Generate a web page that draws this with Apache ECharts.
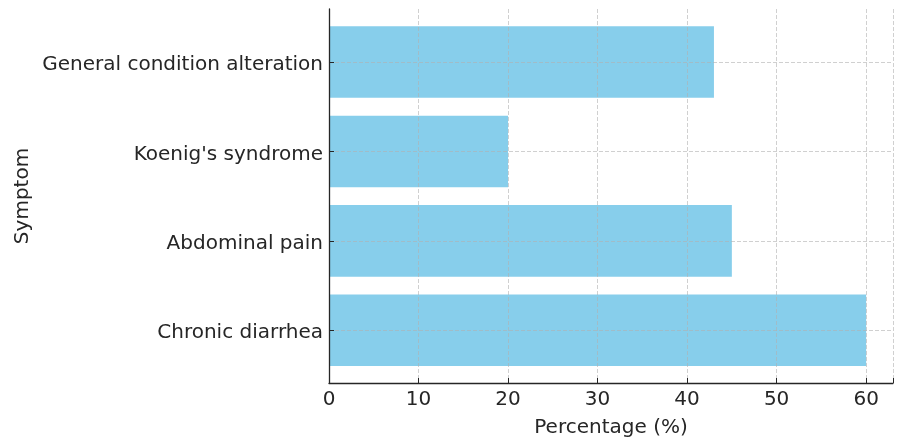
<!DOCTYPE html>
<html><head><meta charset="utf-8">
<script src="https://cdn.jsdelivr.net/npm/echarts@6/dist/echarts.min.js"></script>
<style>html,body{margin:0;padding:0;background:#fff}#c{width:897px;height:441px}</style>
</head><body><div id="c"></div>
<script>
const categories = ["Chronic diarrhea", "Abdominal pain", "Koenig's syndrome", "General condition alteration"];
const percentages = [60, 45, 20, 43];
const xTicks = [0, 10, 20, 30, 40, 50, 60];
const xLabel = "Percentage (%)";
const yLabel = "Symptom";

const font = "DejaVu Sans";
const txt = "#262626";
const fs = 20;
const chart = echarts.init(document.getElementById('c'), null, {renderer: 'canvas'});
chart.setOption({
  animation: false,
  backgroundColor: '#fff',
  grid: [
    {left: 329, right: 4, top: 17.3, bottom: 66, outerBoundsMode: 'none', containLabel: false},
    {left: 329, right: 4, top: 9, bottom: 58, outerBoundsMode: 'none', containLabel: false}
  ],
  xAxis: [
    {gridIndex: 0, type: 'value', min: 0, max: 63, show: false},
    {gridIndex: 1, type: 'value', min: 0, max: 63, interval: 10, z: 5,
     name: xLabel, nameLocation: 'middle', nameGap: 35,
     nameTextStyle: {fontFamily: font, fontSize: fs, color: txt},
     axisLine: {show: true, lineStyle: {color: txt, width: 1.3}},
     axisTick: {show: true, inside: true, length: 5, lineStyle: {color: txt}},
     axisLabel: {fontFamily: font, fontSize: fs, color: txt, margin: 7,
       formatter: v => xTicks.includes(v) ? String(v) : ''},
     splitLine: {show: true, lineStyle: {color: 'rgba(176,176,176,0.6)', type: [4, 2], width: 1}}
    }
  ],
  yAxis: [
    {gridIndex: 0, type: 'category', data: categories, z: 5,
     axisLine: {show: false},
     axisTick: {show: true, inside: true, length: 5, alignWithLabel: true, lineStyle: {color: txt}},
     axisLabel: {margin: 6, formatter: v => '{a|' + v + '}',
       rich: {a: {fontFamily: font, fontSize: fs, color: txt, padding: [6, 0, 0, 0]}}},
     splitLine: {show: false}
    },
    {gridIndex: 1, type: 'value', min: 0, max: 1, z: 5,
     name: yLabel, nameLocation: 'middle', nameGap: 296, nameRotate: 90,
     nameTextStyle: {fontFamily: font, fontSize: fs, color: txt},
     axisLine: {show: true, lineStyle: {color: txt, width: 1.3}},
     axisTick: {show: false}, axisLabel: {show: false}, splitLine: {show: false}
    }
  ],
  series: [
    {type: 'bar', xAxisIndex: 0, yAxisIndex: 0, data: percentages, barWidth: '80%',
     itemStyle: {color: '#87CEEB'}, z: 2},
    {type: 'line', xAxisIndex: 0, yAxisIndex: 0, data: percentages.map((v, i) => [63, i]),
     symbol: 'none', lineStyle: {opacity: 0}, silent: true, z: 1,
     markLine: {silent: true, symbol: 'none', label: {show: false},
       lineStyle: {color: 'rgba(176,176,176,0.6)', type: [4, 2], width: 1},
       data: categories.map(c => ({yAxis: c}))}
    }
  ]
});
</script></body></html>
